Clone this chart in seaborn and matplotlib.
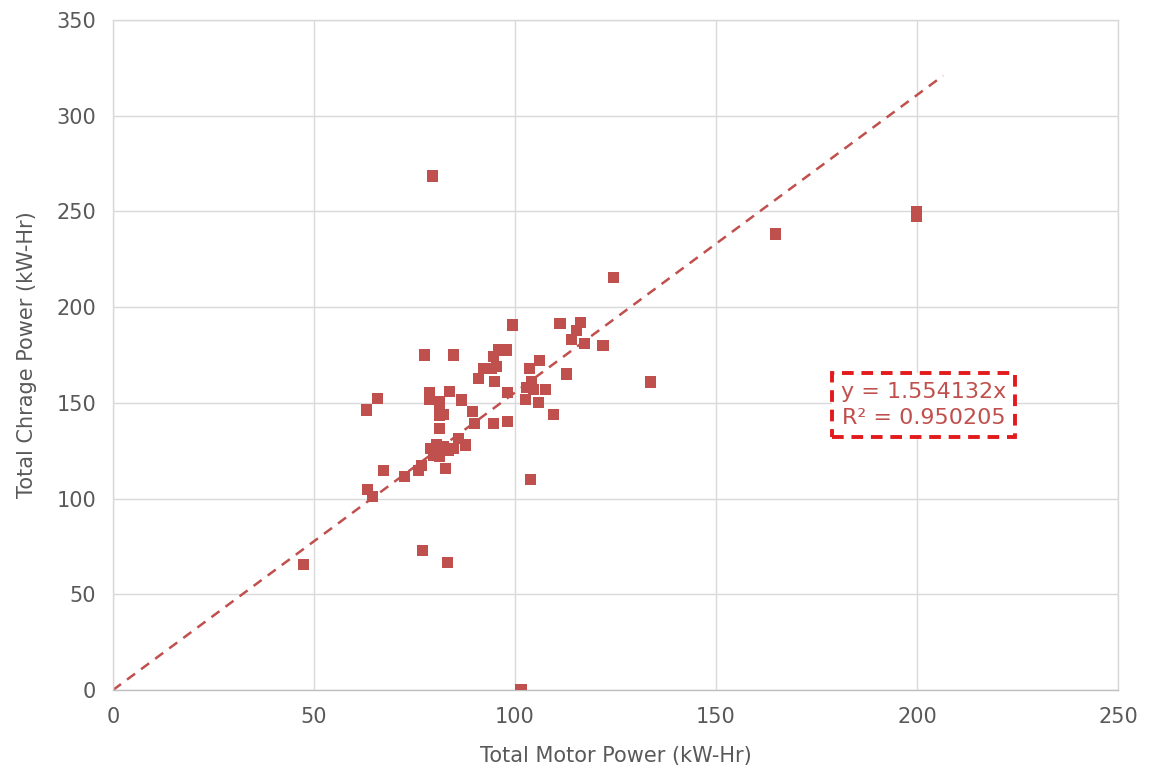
import numpy as np
import pandas as pd
import matplotlib
matplotlib.use("Agg")
import matplotlib.pyplot as plt
import seaborn as sns

# Data
motor_power = [47.3, 63.1, 63.3, 64.5, 65.8, 67.2, 72.6, 76.0, 76.8, 77.1,
               77.4, 78.7, 78.7, 78.9, 79.4, 79.7, 80.5, 81.3, 81.3, 81.3,
               81.3, 81.3, 82.2, 82.2, 82.8, 83.3, 83.4, 83.7, 84.7, 84.7,
               85.9, 86.7, 87.6, 89.5, 90.0, 90.9, 92.1, 94.2, 94.6, 94.6,
               95.0, 95.4, 95.8, 97.9, 98.1, 98.2, 99.4, 101.5, 102.6, 102.9,
               103.7, 103.9, 104.1, 104.6, 105.8, 106.0, 107.7, 109.5, 111.2, 112.9,
               114.1, 115.3, 116.2, 117.4, 121.9, 124.6, 133.8, 164.9, 199.8, 199.8]
charge_power = [65.8, 146.3, 104.9, 101.0, 152.4, 114.9, 111.4, 114.9, 117.5, 73.1,
                175.0, 155.3, 151.9, 126.3, 268.5, 122.8, 128.0, 150.6, 148.0, 143.7,
                136.7, 121.9, 144.0, 127.1, 115.8, 66.4, 125.4, 155.9, 175.0, 126.3,
                131.5, 151.5, 128.0, 145.4, 139.3, 162.8, 168.0, 168.0, 174.2, 139.0,
                161.1, 168.9, 177.6, 177.6, 140.2, 155.3, 190.7, 0.0, 151.9, 158.1,
                168.0, 110.2, 161.1, 157.1, 150.3, 172.0, 157.1, 144.0, 191.6, 165.1,
                183.2, 188.0, 191.9, 181.1, 180.2, 215.3, 160.9, 238.2, 249.7, 247.6]
slope = 1.554132
r_squared = 0.950205
trend_x = [0, 206.5]

df = pd.DataFrame({"motor": motor_power, "charge": charge_power})

sns.set_style("white")
plt.rcParams["font.family"] = ["DejaVu Sans"]

fig = plt.figure(figsize=(11.49, 7.82), dpi=100)
ax = fig.add_axes([0.0983, 0.1176, 0.8747, 0.8568])

red = "#C0504D"
sns.scatterplot(data=df, x="motor", y="charge", marker="s", s=64,
                color=red, edgecolor="none", ax=ax, zorder=3)

# Trendline through origin
tx = np.array(trend_x)
ax.plot(tx, slope * tx, linestyle=(0, (4, 3)), color=red, linewidth=1.8, zorder=2)

ax.set_xlim(0, 250)
ax.set_ylim(0, 350)
ax.set_xticks(range(0, 251, 50))
ax.set_yticks(range(0, 351, 50))
ax.grid(True, color="#D9D9D9", linewidth=1)
ax.set_axisbelow(True)
for sp in ax.spines.values():
    sp.set_color("#D9D9D9")
    sp.set_linewidth(1)
ax.spines["bottom"].set_color("#BFBFBF")
ax.tick_params(axis="both", length=0, labelsize=15, labelcolor="#595959", pad=12)

ax.set_xlabel("Total Motor Power (kW-Hr)", fontsize=15, color="#595959", labelpad=14)
ax.set_ylabel("Total Chrage Power (kW-Hr)", fontsize=15, color="#595959", labelpad=14)

ax.text(201.7, 148.9, f"y = {slope:.6f}x\nR\u00b2 = {r_squared:.6f}",
        ha="center", va="center", fontsize=16, color=red, linespacing=1.4,
        bbox=dict(boxstyle="square,pad=0.4", facecolor="white",
                  edgecolor="#E31A1C", linewidth=2.8, linestyle=(0, (3, 2))),
        zorder=4)

fig.savefig("out.png", dpi=100)
